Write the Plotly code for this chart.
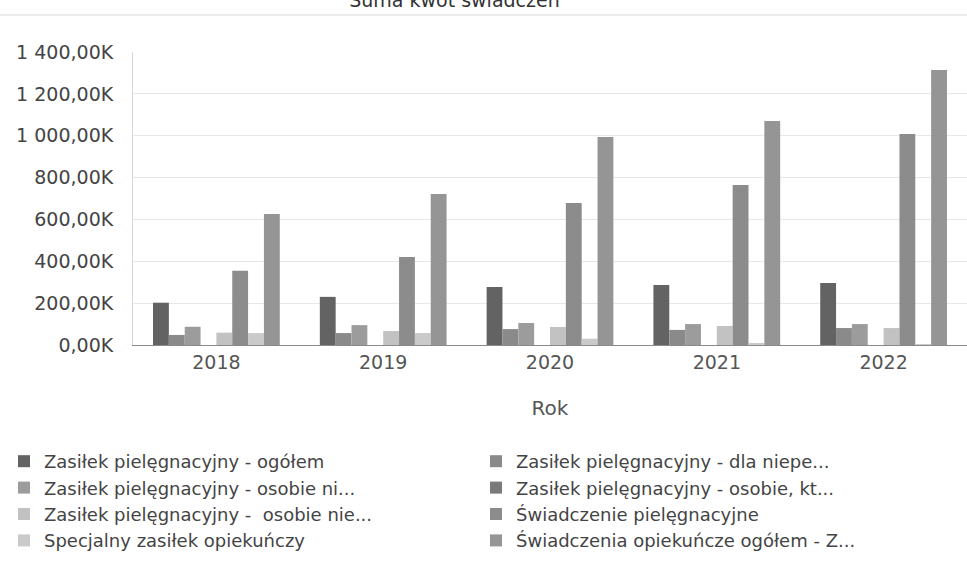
import plotly.graph_objects as go

years = ["2018", "2019", "2020", "2021", "2022"]

series_names = [
    "Zasiłek pielęgnacyjny - ogółem",
    "Zasiłek pielęgnacyjny - dla niepe...",
    "Zasiłek pielęgnacyjny - osobie ni...",
    "Zasiłek pielęgnacyjny - osobie, kt...",
    "Zasiłek pielęgnacyjny -  osobie nie...",
    "Świadczenie pielęgnacyjne",
    "Specjalny zasiłek opiekuńczy",
    "Świadczenia opiekuńcze ogółem - Z...",
]

# values in thousands
ogolem = [202, 230, 277, 287, 296]
dla_niepelnosprawnego = [48, 57, 76, 72, 81]
osobie_ni = [87, 95, 105, 100, 100]
osobie_kt = [0, 0, 0, 0, 0]
osobie_nie = [59, 67, 86, 91, 81]
swiadczenie_pielegnacyjne = [355, 420, 678, 764, 1008]
specjalny = [57, 57, 30, 5, 2]
opiekuncze_ogolem = [626, 721, 994, 1070, 1314]

series_values = [
    ogolem, dla_niepelnosprawnego, osobie_ni, osobie_kt,
    osobie_nie, swiadczenie_pielegnacyjne, specjalny, opiekuncze_ogolem,
]

colors = ["#636363", "#8a8a8a", "#9c9c9c", "#7a7a7a",
          "#c2c2c2", "#8c8c8c", "#cacaca", "#959595"]

y_ticks = [0, 200, 400, 600, 800, 1000, 1200, 1400]
y_tick_text = ["0,00K", "200,00K", "400,00K", "600,00K", "800,00K",
               "1 000,00K", "1 200,00K", "1 400,00K"]

W, H = 967, 564
ML, MT, PH = 133, 52, 293
PW = W - ML

fig = go.Figure()
for name, vals, col in zip(series_names, series_values, colors):
    fig.add_trace(go.Bar(
        x=years, y=vals, name=name,
        marker=dict(color=col, line=dict(width=0)),
    ))

FONT = "DejaVu Sans"

fig.update_layout(
    width=W, height=H,
    margin=dict(l=ML, r=0, t=MT, b=H - MT - PH),
    paper_bgcolor="white", plot_bgcolor="white",
    barmode="group", bargap=0.24, bargroupgap=0,
    font=dict(family=FONT, color="#444444"),
    title=dict(text="Suma kwot świadczeń", x=0.47, xanchor="center",
               y=1.0, yanchor="middle", yref="container",
               font=dict(size=19, color="#333333")),
    showlegend=True,
    legend=dict(
        orientation="h",
        x=(4 - ML) / PW, xanchor="left",
        y=-(443 - MT - PH) / PH, yanchor="top",
        entrywidth=427, entrywidthmode="pixels",
        font=dict(size=18, color="#444444"),
        traceorder="normal",
        itemclick=False, itemdoubleclick=False,
    ),
    xaxis=dict(
        showgrid=False, showline=True, linecolor="#8a8a8a", linewidth=1,
        tickfont=dict(size=19, color="#555555"), ticks="",
        title=dict(text="Rok", font=dict(size=20, color="#555555"), standoff=29),
    ),
    yaxis=dict(
        range=[0, 1400], tickvals=y_ticks, ticktext=y_tick_text,
        showgrid=True, gridcolor="#e8e8e8", gridwidth=1,
        showline=True, linecolor="#d6d6d6", linewidth=1,
        zeroline=False, ticks="", ticklabelstandoff=15,
        tickfont=dict(size=19, color="#444444"),
    ),
    shapes=[dict(type="line", xref="paper", yref="paper",
                 x0=-ML / PW, x1=1.0,
                 y0=1 + (MT - 15) / PH, y1=1 + (MT - 15) / PH,
                 line=dict(color="#ececec", width=2))],
)

fig.write_html("out.html")
